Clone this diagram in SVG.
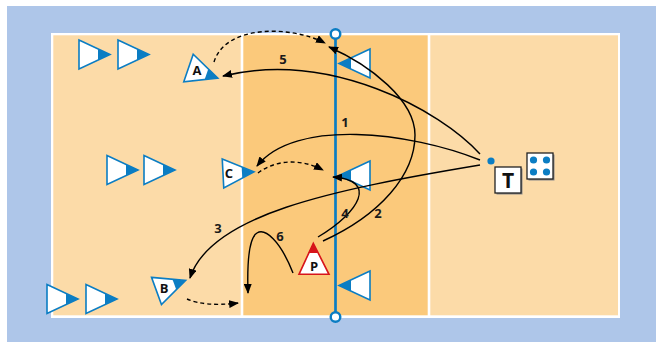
<svg xmlns="http://www.w3.org/2000/svg" width="656" height="342" viewBox="0 0 656 342">
<style>
.ln{fill:none;stroke:#000;stroke-width:1.4}
.dash{fill:none;stroke:#000;stroke-width:1.4;stroke-dasharray:4 3}
.num{font-family:"Open Sans","Liberation Sans",sans-serif;font-weight:bold;font-size:13px;fill:#1a1a1a;text-anchor:middle}
.let{font-family:"Open Sans","Liberation Sans",sans-serif;font-weight:bold;font-size:13px;fill:#111;text-anchor:middle}
.tri{fill:#fff;stroke:#0b7dc3;stroke-width:1.6;stroke-linejoin:miter}
.tip{fill:#0b7dc3}
.box{fill:#fff;stroke:#222;stroke-width:1.3}
.shadow{fill:#8a8a8a}
.dot{fill:#0b7dc3}
</style>
<defs>
<marker id="ah" markerWidth="10" markerHeight="8" refX="9" refY="4" orient="auto" markerUnits="userSpaceOnUse"><path d="M0,0 L10,4 L0,8 z" fill="#000" stroke="none"/></marker>
<g id="pl"><polygon class="tri" points="0,-14.5 31,0 0,14.5"/><polygon class="tip" points="19,-5.6 31,0 19,5.6"/></g>
</defs>
<rect x="7" y="6" width="649" height="336" fill="#aec6e9"/>
<g id="court">
<rect x="51" y="33" width="569" height="285" fill="#fff"/>
<rect x="53.3" y="35.3" width="187.4" height="280" fill="#fcdba8"/>
<rect x="243.3" y="35.3" width="184.4" height="280" fill="#fbc97b"/>
<rect x="430.3" y="35.3" width="187.7" height="280" fill="#fcdba8"/>
</g>
<g id="net">
<line x1="335.5" y1="34" x2="335.5" y2="317" stroke="#0b7dc3" stroke-width="2.7"/>
<circle cx="335.5" cy="34" r="4.8" fill="#fff" stroke="#0b7dc3" stroke-width="2.4"/>
<circle cx="335.5" cy="317" r="4.8" fill="#fff" stroke="#0b7dc3" stroke-width="2.4"/>
</g>
<g id="players">
<g id="p-l1"><use href="#pl" transform="translate(79,54.5)"/></g>
<g id="p-l2"><use href="#pl" transform="translate(118,54.5)"/></g>
<g id="p-l3"><use href="#pl" transform="translate(107,170)"/></g>
<g id="p-l4"><use href="#pl" transform="translate(144,170)"/></g>
<g id="p-l5"><use href="#pl" transform="translate(47,299)"/></g>
<g id="p-l6"><use href="#pl" transform="translate(86,299)"/></g>
<g id="p-r1"><use href="#pl" transform="translate(370,63.5) scale(-1,1)"/></g>
<g id="p-r2"><use href="#pl" transform="translate(370,175.5) scale(-1,1)"/></g>
<g id="p-r3"><use href="#pl" transform="translate(370,285.5) scale(-1,1)"/></g>
<g id="p-A"><use href="#pl" transform="translate(188.5,68) rotate(19)"/><text class="let" x="197" y="75">A</text></g>
<g id="p-B"><use href="#pl" transform="translate(156.5,291) rotate(-20)"/><text class="let" x="164" y="293">B</text></g>
<g id="p-C"><use href="#pl" transform="translate(223,173.5) rotate(-3)"/><text class="let" x="229" y="178">C</text></g>
<g id="p-P"><polygon points="313.3,243.3 329,274.3 299,274.3" fill="#fff" stroke="#d7141a" stroke-width="1.6"/><polygon points="313.3,243.3 318.2,253 308.4,253" fill="#d7141a"/><text class="let" x="314" y="270.5">P</text></g>
<g id="coach"><circle class="dot" cx="491" cy="161" r="3.6"/><rect class="shadow" x="496.5" y="168.5" width="26" height="26"/><rect class="box" x="495" y="167" width="26" height="26"/><text x="508" y="188" font-family="'Open Sans','Liberation Sans',sans-serif" font-weight="bold" font-size="21" text-anchor="middle" fill="#111">T</text></g>
<g id="balls"><rect class="shadow" x="528.5" y="154.5" width="26" height="26"/><rect class="box" x="527" y="153" width="26" height="26"/><circle class="dot" cx="533.5" cy="160" r="3.6"/><circle class="dot" cx="546.5" cy="160" r="3.6"/><circle class="dot" cx="533.5" cy="172" r="3.6"/><circle class="dot" cx="546.5" cy="172" r="3.6"/></g>
</g>
<g id="connectors">
<path class="ln" d="M480,154 C440,110 330,50 223,76" marker-end="url(#ah)"/>
<path class="ln" d="M480,160 C410,132 295,118 257,166" marker-end="url(#ah)"/>
<path class="ln" d="M480,165 C330,190 210,215 190,278" marker-end="url(#ah)"/>
<path class="ln" d="M323,241 C380,215 415,175 415,135 C415,100 370,65 329,47" marker-end="url(#ah)"/>
<path class="ln" d="M318,237 C360,212 378,180 333,177" marker-end="url(#ah)"/>
<path class="ln" d="M293,273 C280,240 265,228 257,233 C249,238 247,262 248,293" marker-end="url(#ah)"/>
<path class="dash" d="M214,62 C225,25 290,25 325,43" marker-end="url(#ah)"/>
<path class="dash" d="M258,173 C275,160 300,158 323,170" marker-end="url(#ah)"/>
<path class="dash" d="M187,299 Q205,307 238,303" marker-end="url(#ah)"/>
</g>
<g id="labels">
<text class="num" x="283" y="63.5">5</text>
<text class="num" x="345" y="126.5">1</text>
<text class="num" x="218" y="232.5">3</text>
<text class="num" x="280" y="240.5">6</text>
<text class="num" x="345" y="217.5">4</text>
<text class="num" x="378" y="217.5">2</text>
</g>
</svg>
